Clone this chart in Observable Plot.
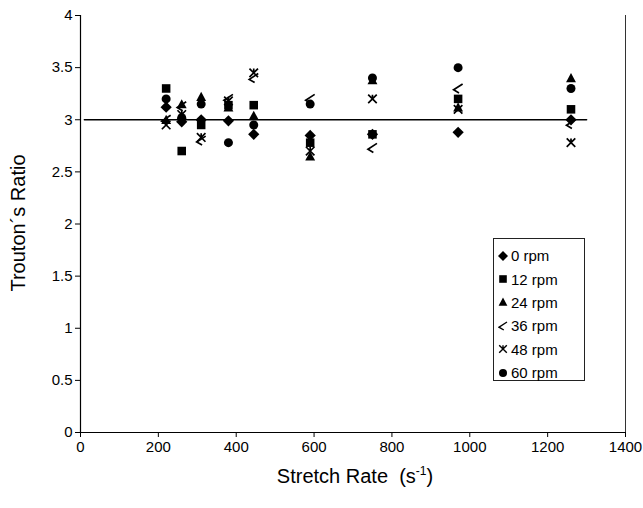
<!DOCTYPE html>
<html>
<head>
<meta charset="utf-8">
<script src="https://cdn.jsdelivr.net/npm/d3@7"></script>
<script src="https://cdn.jsdelivr.net/npm/@observablehq/plot@0.6"></script>
<style>
  body { margin: 0; background: #fff; font-family: "Liberation Sans", Arial, sans-serif; }
  #wrap { position: relative; width: 643px; height: 508px; }
  #legend { position: absolute; left: 493px; top: 238px; width: 92px; height: 143px; border: 1px solid #222; background: #fff; box-sizing: border-box; padding-top: 5px; }
  .row { display: flex; align-items: center; height: 23.4px; font-size: 15px; color: #000; }
  .row svg { margin-left: 4px; margin-right: 3px; }
  #xtitle { position: absolute; left: 0; width: 710px; text-align: center; top: 464px; font-size: 20px; }
  #xtitle sup { font-size: 12px; }
</style>
</head>
<body>
<div id="wrap"></div>
<script>
// ---- data ----
const stretchRate = [220, 260, 310, 380, 445, 590, 750, 970, 1260];
const rpm0  = [3.12, 2.98, 3.00, 2.99, 2.86, 2.85, 2.86, 2.88, 3.00];
const rpm12 = [3.30, 2.70, 2.95, 3.14, 3.14, 2.78, 2.86, 3.20, 3.10];
const rpm24 = [3.00, 3.15, 3.22, 3.12, 3.04, 2.65, 3.38, 3.12, 3.40];
const rpm36 = [3.00, 3.13, 2.80, 3.20, 3.40, 3.20, 2.73, 3.30, 2.96];
const rpm48 = [2.95, 3.05, 2.83, 3.18, 3.45, 2.70, 3.20, 3.10, 2.78];
const rpm60 = [3.20, 3.02, 3.15, 2.78, 2.95, 3.15, 3.40, 3.50, 3.30];
const seriesNames = ["0 rpm", "12 rpm", "24 rpm", "36 rpm", "48 rpm", "60 rpm"];
const fitX = [10, 1300];
const fitY = [3, 3];
const xTicks = [0, 200, 400, 600, 800, 1000, 1200, 1400];
const yTicks = [0, 0.5, 1, 1.5, 2, 2.5, 3, 3.5, 4];

// ---- symbols ----
const rad = s => Math.sqrt(s / Math.PI);
const symDiamond = {draw(c, s){const r = rad(s)*1.25; c.moveTo(0,-r); c.lineTo(r,0); c.lineTo(0,r); c.lineTo(-r,0); c.closePath();}};
const symSquare = {draw(c, s){const r = rad(s)*0.95; c.moveTo(-r,-r); c.lineTo(r,-r); c.lineTo(r,r); c.lineTo(-r,r); c.closePath();}};
const symTriangle = {draw(c, s){const r = rad(s)*1.1; c.moveTo(0,-r); c.lineTo(r,r*0.85); c.lineTo(-r,r*0.85); c.closePath();}};
const symLambda = {draw(c, s){const r = rad(s)*1.0; c.moveTo(r,-r); c.lineTo(-r,r*0.3); c.lineTo(r*0.2,r); }};
const symStar = {draw(c, s){const r = rad(s)*0.95; c.moveTo(-r,-r); c.lineTo(r,r); c.moveTo(r,-r); c.lineTo(-r,r); c.moveTo(0,-r); c.lineTo(0,r*0.1);}};
const symCircle = {draw(c, s){const r = rad(s); c.moveTo(r,0); c.arc(0,0,r,0,2*Math.PI);}};

const defs = [
  {vals: rpm0, sym: symDiamond, filled: true},
  {vals: rpm12, sym: symSquare, filled: true},
  {vals: rpm24, sym: symTriangle, filled: true},
  {vals: rpm36, sym: symLambda, filled: false},
  {vals: rpm48, sym: symStar, filled: false},
  {vals: rpm60, sym: symCircle, filled: true}
];

const marks = [
  Plot.ruleX([0], {stroke: "#000", strokeWidth: 1.2}),
  Plot.ruleX([1400], {stroke: "#333", strokeWidth: 1}),
  Plot.ruleY([0], {stroke: "#000", strokeWidth: 1.2}),
  Plot.axisX({ticks: xTicks, tickSize: 5, tickPadding: 4, tickFormat: d => String(d), fontSize: 15, label: null}),
  Plot.axisY({ticks: yTicks, tickSize: 5, tickPadding: 3, tickFormat: d => String(d), fontSize: 15, label: null}),
  Plot.line(fitX.map((x, i) => ({x, y: fitY[i]})), {x: "x", y: "y", stroke: "#000", strokeWidth: 1.6})
];
defs.forEach((d, k) => {
  const data = stretchRate.map((x, i) => ({x, y: d.vals[i], s: seriesNames[k]}));
  marks.push(Plot.dot(data, d.filled
    ? {x: "x", y: "y", symbol: d.sym, r: 4.5, fill: "#000", stroke: "none"}
    : {x: "x", y: "y", symbol: d.sym, r: 4.5, fill: "none", stroke: "#000", strokeWidth: 1.7}));
});

const chart = Plot.plot({
  width: 643,
  height: 508,
  marginLeft: 80,
  marginRight: 18,
  marginTop: 15,
  marginBottom: 76,
  style: {fontFamily: "'Liberation Sans', Arial, sans-serif", color: "#000", background: "#fff"},
  x: {domain: [0, 1400]},
  y: {domain: [0, 4]},
  marks
});
const wrap = document.getElementById("wrap");
wrap.appendChild(chart);

// y title
const svg = d3.select(chart);
svg.append("text")
  .attr("transform", "translate(25,223) rotate(-90)")
  .attr("text-anchor", "middle")
  .attr("font-size", 20)
  .attr("fill", "#000")
  .text("Trouton´s Ratio");

// x title
const xt = document.createElement("div");
xt.id = "xtitle";
xt.innerHTML = "Stretch Rate&nbsp;&nbsp;(s<sup>-1</sup>)";
wrap.appendChild(xt);

// legend
const leg = document.createElement("div");
leg.id = "legend";
defs.forEach((d, k) => {
  const row = document.createElement("div");
  row.className = "row";
  const p = d3.path();
  d.sym.draw(p, 16 * Math.PI);
  row.innerHTML = `<svg width="10" height="10" viewBox="-5 -5 10 10"><path d="${p.toString()}" fill="${d.filled ? "#000" : "none"}" stroke="${d.filled ? "none" : "#000"}" stroke-width="1.4"/></svg><span>${seriesNames[k]}</span>`;
  leg.appendChild(row);
});
wrap.appendChild(leg);
</script>
</body>
</html>
